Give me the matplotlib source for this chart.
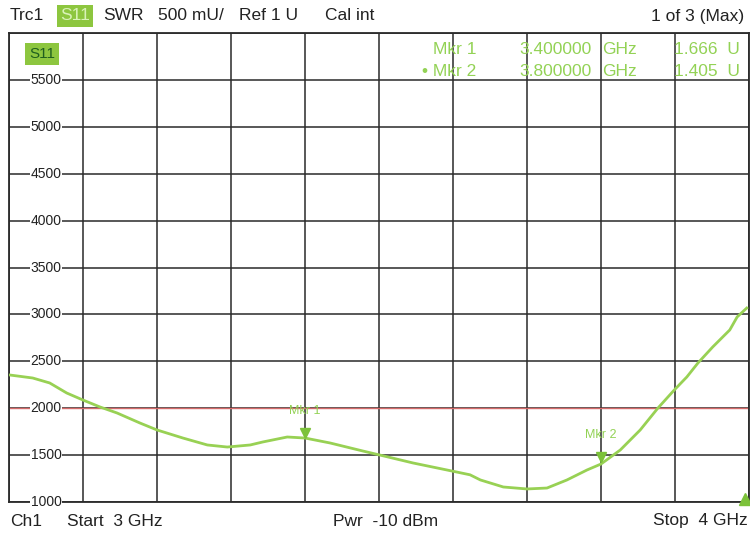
import numpy as np
import matplotlib
matplotlib.use("Agg")
import matplotlib.pyplot as plt
from matplotlib.transforms import blended_transform_factory

plt.rcParams['font.family'] = ['Liberation Sans', 'DejaVu Sans']

# ---- data ----
freq_ghz = [3.001, 3.032, 3.055, 3.078, 3.100, 3.123, 3.146, 3.177, 3.200,
            3.235, 3.268, 3.295, 3.326, 3.343, 3.376, 3.400, 3.434, 3.478,
            3.501, 3.546, 3.592, 3.623, 3.637, 3.668, 3.700, 3.727, 3.754,
            3.781, 3.800, 3.826, 3.853, 3.877, 3.899, 3.916, 3.931, 3.951,
            3.974, 3.984, 3.997]
swr_mu = [2354, 2322, 2269, 2162, 2087, 2013, 1949, 1842, 1768,
          1682, 1608, 1586, 1608, 1640, 1693, 1682, 1629, 1544,
          1501, 1416, 1341, 1290, 1235, 1160, 1139, 1149, 1235,
          1341, 1405, 1554, 1768, 2002, 2194, 2333, 2482, 2653,
          2834, 2973, 3068]
ref_line = 2000
marker_names = ["Mkr 1", "Mkr 2"]
marker_freqs = [3.4, 3.8]
marker_values = [1666, 1405]
ytick_values = [1000, 1500, 2000, 2500, 3000, 3500, 4000, 4500, 5000, 5500]
x_start, x_stop = 3.0, 4.0
y_min, y_max = 1000, 6000

GREEN = "#98d154"
TXT_GREEN = "#93d255"

fig = plt.figure(figsize=(7.5, 5.33), dpi=100)
W, H = 750, 533
l, r, t, b = 9, 749, 33, 502
ax = fig.add_axes([l / W, 1 - b / H, (r - l) / W, (b - t) / H])
ax.set_xlim(x_start, x_stop)
ax.set_ylim(y_min, y_max)
ax.set_xticks(np.linspace(x_start, x_stop, 11))
ax.set_yticks(np.arange(y_min, y_max + 1, 500))
ax.grid(True, color="#2a2a2a", linewidth=1.1)
ax.tick_params(left=False, bottom=False, labelleft=False, labelbottom=False)
for s in ax.spines.values():
    s.set_color("#2a2a2a")
    s.set_linewidth(1.3)
ax.set_axisbelow(True)

# reference line
ax.axhline(ref_line, color="#d46a6a", linewidth=1.0, zorder=2)

# trace
ax.plot(freq_ghz, swr_mu, color=GREEN, linewidth=2.0, zorder=3)

# y labels inside the axes
trans = blended_transform_factory(ax.transAxes, ax.transData)
for v in ytick_values:
    ax.text(0.05, v, str(v), transform=trans, ha="center", va="center",
            fontsize=10, color="#222222", zorder=4,
            bbox=dict(facecolor="white", edgecolor="none", pad=0.3))

# markers
for name, f, v in zip(marker_names, marker_freqs, marker_values):
    ax.plot([f], [v + 70], marker="v", color="#7cc23a", markersize=7, zorder=5)
    ax.text(f, v + 240, name, ha="center", va="bottom", fontsize=9,
            color=TXT_GREEN, zorder=5)
# small marker shape at bottom right
ax.plot([x_stop - 0.005], [y_min + 30], marker="^", color="#7cc23a",
        markersize=8, zorder=5, clip_on=False)

# S11 label in plot
ax.text(0.045, 5776, "S11", transform=trans, ha="center", va="center",
        fontsize=11, color="#1f5f1f", zorder=5,
        bbox=dict(facecolor="#8dc63f", edgecolor="none", pad=3))

# marker readouts
rows = [("Mkr 1", "3.400000", "GHz", "1.666  U"),
        ("\u2022 Mkr 2", "3.800000", "GHz", "1.405  U")]
for i, (a, bb, c, d) in enumerate(rows):
    yy = 1 - (49 + i * 23) / H
    fig.text(476 / W, yy, a, ha="right", va="center", fontsize=12.5, color=TXT_GREEN)
    fig.text(592 / W, yy, bb, ha="right", va="center", fontsize=12.5, color=TXT_GREEN)
    fig.text(602 / W, yy, c, ha="left", va="center", fontsize=12.5, color=TXT_GREEN)
    fig.text(740 / W, yy, d, ha="right", va="center", fontsize=12.5, color=TXT_GREEN)

# header
hy = 1 - 16 / H
fs = 12.5
fig.text(10 / W, hy, "Trc1", ha="left", va="center", fontsize=fs, color="#222222")
fig.text(75 / W, hy, "S11", ha="center", va="center", fontsize=fs, color="#d9f2b8",
         bbox=dict(facecolor="#8dc63f", edgecolor="none", pad=2.5))
fig.text(103 / W, hy, "SWR", ha="left", va="center", fontsize=fs, color="#222222")
fig.text(158 / W, hy, "500 mU/", ha="left", va="center", fontsize=fs, color="#222222")
fig.text(239 / W, hy, "Ref 1 U", ha="left", va="center", fontsize=fs, color="#222222")
fig.text(325 / W, hy, "Cal int", ha="left", va="center", fontsize=fs, color="#222222")
fig.text(744 / W, hy, "1 of 3 (Max)", ha="right", va="center", fontsize=fs,
         color="#222222")

# footer
fy = 1 - 521 / H
fig.text(10 / W, fy, "Ch1", ha="left", va="center", fontsize=fs, color="#222222")
fig.text(67 / W, fy, "Start  3 GHz", ha="left", va="center", fontsize=fs, color="#222222")
fig.text(386 / W, fy, "Pwr  -10 dBm", ha="center", va="center", fontsize=fs,
         color="#222222")
fig.text(748 / W, fy, "Stop  4 GHz", ha="right", va="center", fontsize=fs,
         color="#222222")

fig.savefig("out.png", dpi=100)
